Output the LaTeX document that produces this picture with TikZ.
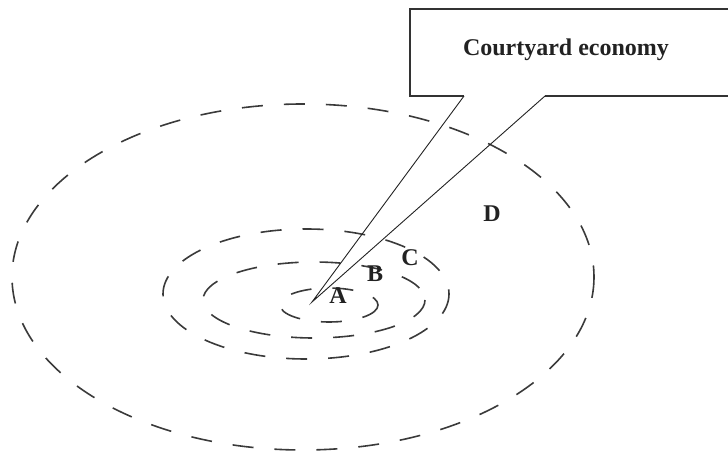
\documentclass[tikz,border=0pt]{standalone}
\usepackage{fontspec}
\setmainfont{Liberation Serif}
\definecolor{ink}{HTML}{222222}
\definecolor{ring}{HTML}{3A3A3A}
\definecolor{frame}{HTML}{333333}

\begin{document}
\begin{tikzpicture}[x=1pt,y=-1pt,text=ink,
    ringline/.style={ring,line width=1.6pt,dash pattern=on 21pt off 21pt},
    boxline/.style={frame,line width=1.6pt},
    pointer/.style={ink,line width=0.9pt},
    zone/.style={font=\fontsize{24}{28}\selectfont\bfseries,anchor=base,inner sep=0pt}]
  \useasboundingbox (0,0) rectangle (728,454);

  \foreach \cx/\cy/\rx/\ry in {303/277/291/173,306/294/143/65,
      314/300/111/38,329/305/49/17}{
    \draw[ringline] (\cx,\cy) ellipse [x radius=\rx,y radius=\ry];
  }

  \coordinate (tip) at (312,302);
  \coordinate (footL) at (464,96);
  \coordinate (footR) at (545,96);
  \draw[boxline] (footL)--(410,96)--(410,9)--(745,9)--(745,96)--(footR);
  \draw[pointer] (footL)--(tip)--(footR);
  \node[zone] (callout) at (566,56) {Courtyard economy};

  \node[zone] (zoneA) at (338,303.5) {A};
  \node[zone] (zoneB) at (375,282) {B};
  \node[zone] (zoneC) at (410,266) {C};
  \node[zone] (zoneD) at (492,222) {D};
\end{tikzpicture}
\end{document}
